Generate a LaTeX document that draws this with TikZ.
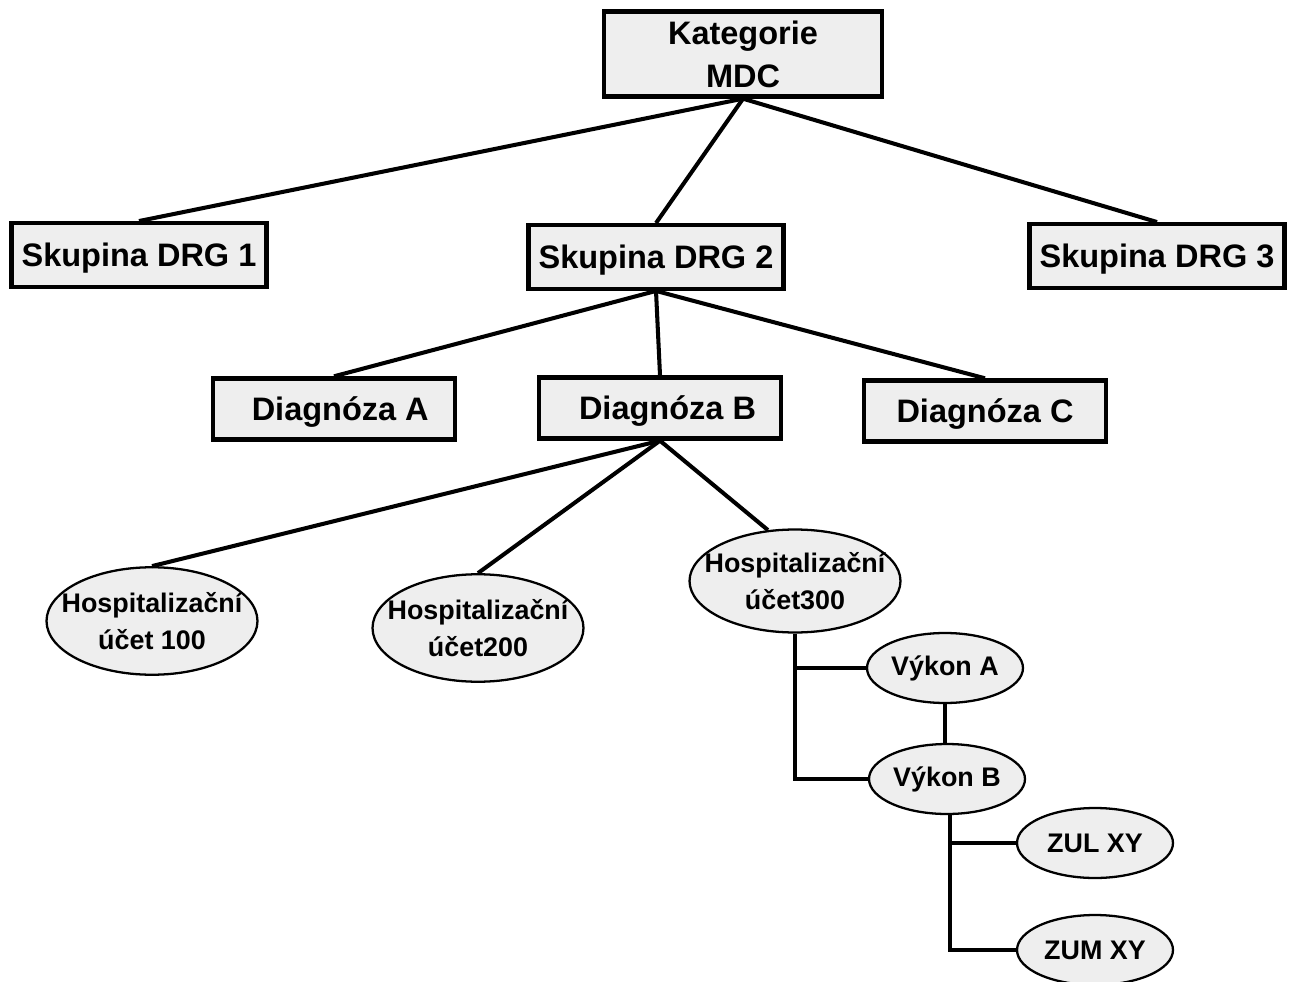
\documentclass[tikz,border=0pt]{standalone}
\usepackage{fontspec}
\setmainfont{Liberation Sans}
\usepackage{tikz}
\usetikzlibrary{shapes.geometric}
\definecolor{boxgray}{HTML}{EEEEEE}

\begin{document}
\begin{tikzpicture}[x=0.02cm,y=-0.02cm,
  box/.style={draw,line width=2.5pt,fill=boxgray,align=center,inner sep=0pt,
    font=\bfseries\fontsize{18.5}{24.5}\selectfont},
  drgbox/.style={box,text depth=0pt,minimum width=5.1cm,minimum height=1.27cm},
  diagbox/.style={box,text depth=0pt,minimum width=4.85cm,minimum height=1.22cm},
  oval/.style={ellipse,draw,line width=1.3pt,fill=boxgray,align=center,inner sep=-0.5cm,
    font=\bfseries\fontsize{15.3}{21}\selectfont},
  hospoval/.style={oval,minimum width=4.22cm,minimum height=2.15cm},
  smalloval/.style={oval,minimum width=3.12cm,minimum height=1.4cm},
  link/.style={line width=2.3pt}]
\useasboundingbox (0,0) rectangle (1290,982);
\node[box,minimum width=5.55cm,minimum height=1.7cm] (mdc) at (743,54) {Kategorie\\MDC};
\node[drgbox] (drg1) at (139,255) {Skupina DRG 1};
\node[drgbox] (drg2) at (656,257) {Skupina DRG 2};
\node[drgbox] (drg3) at (1157,256) {Skupina DRG 3};
\node[diagbox] (diaga) at (334,409) {\hspace{0.25cm}Diagnóza A};
\node[diagbox] (diagb) at (660,408) {\hspace{0.3cm}Diagnóza B};
\node[diagbox] (diagc) at (985,411) {Diagnóza C};
\node[hospoval] (ucet100) at (152,621) {Hospitalizační\\účet 100};
\node[hospoval] (ucet200) at (478,628) {Hospitalizační\\účet200};
\node[hospoval,minimum height=2.06cm] (ucet300) at (795,581) {Hospitalizační\\účet300};
\node[smalloval] (vykona) at (945,668) {Výkon A};
\node[smalloval] (vykonb) at (947,779) {Výkon B};
\node[smalloval] (zul) at (1095,843) {ZUL XY};
\node[smalloval] (zum) at (1095,950) {ZUM XY};
\draw[link] (mdc.south) -- (drg1.north);
\draw[link] (mdc.south) -- (drg2.north);
\draw[link] (mdc.south) -- (drg3.north);
\draw[link] (drg2.south) -- (diaga.north);
\draw[link] (drg2.south) -- (diagb.north);
\draw[link] (drg2.south) -- (diagc.north);
\draw[link] (diagb.south) -- (ucet100.north);
\draw[link] (diagb.south) -- (ucet200.north);
\draw[link] (diagb.south) -- (ucet300.118);
\draw[link] (ucet300.south) |- (vykonb.west);
\draw[link] (ucet300.south |- vykona.west) -- (vykona.west);
\draw[link] (vykona.south) -- (vykonb.north -| vykona.south);
\draw[link] (vykonb.-85) |- (zum.west);
\draw[link] (vykonb.-85 |- zul.west) -- (zul.west);
\end{tikzpicture}
\end{document}
